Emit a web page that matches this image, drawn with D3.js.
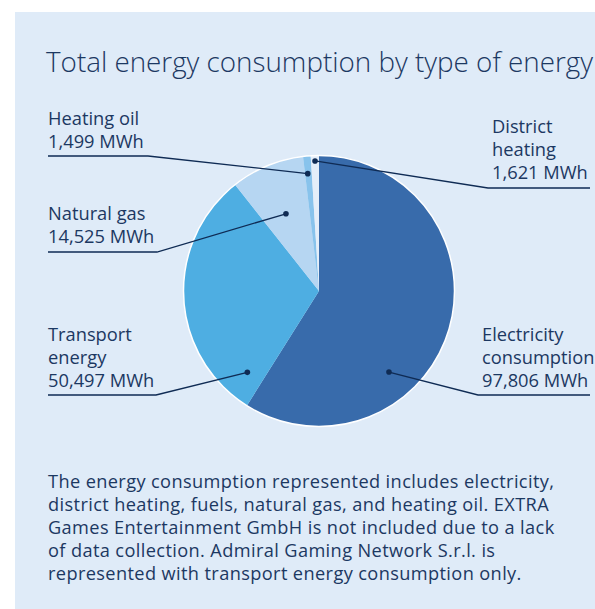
<!DOCTYPE html>
<html>
<head>
<meta charset="utf-8">
<script src="https://cdn.jsdelivr.net/npm/d3@7"></script>
<style>
  html, body { margin: 0; padding: 0; background: #ffffff; }
  svg { display: block; }
</style>
</head>
<body>
<script>
// Energy consumption by type (MWh)
const categories = ["Electricity consumption", "Transport energy", "Natural gas", "Heating oil", "District heating"];
const values = [97806, 50497, 14525, 1499, 1621];
const sliceColors = ["#386bab", "#4eaee2", "#b6d6f2", "#88c3ec", "#e4eef9"];

const titleText = "Total energy consumption by type of energy";
const noteLines = [
  "The energy consumption represented includes electricity,",
  "district heating, fuels, natural gas, and heating oil. EXTRA",
  "Games Entertainment GmbH is not included due to a lack",
  "of data collection. Admiral Gaming Network S.r.l. is",
  "represented with transport energy consumption only."
];

// Callout layout: anchor inside the slice (share of the slice's sweep, share of radius),
// label block position and the underline the leader runs to.
const callouts = [
  { along: 0.656, radial: 0.79, wrap: true,  x: 482, y: 341, side: "right", lineY: 395, x1: 478, x2: 590 },
  { along: 0.084, radial: 0.80, wrap: true,  x: 48,  y: 341, side: "left",  lineY: 395, x1: 48,  x2: 156 },
  { along: 0.48,  radial: 0.62, wrap: false, x: 48,  y: 220, side: "left",  lineY: 252, x1: 48,  x2: 157 },
  { along: 0.40,  radial: 0.87, wrap: false, x: 48,  y: 125, side: "left",  lineY: 156, x1: 48,  x2: 148 },
  { along: 0.50,  radial: 0.96, wrap: true,  x: 492, y: 133, side: "right", lineY: 188, x1: 488, x2: 590 }
];

const W = 595, H = 609;
const cx = 319, cy = 291, R = 135.5;
const ink = "#1c3862";
const leaderInk = "#0f2b54";
const font = "'Open Sans', 'Noto Sans', sans-serif";

const svg = d3.select("body").append("svg")
  .attr("width", W).attr("height", H);

// panel
svg.append("rect")
  .attr("x", 15).attr("y", 12)
  .attr("width", W - 15).attr("height", H - 12)
  .attr("fill", "#dfebf8");

// title
svg.append("text")
  .attr("x", 46).attr("y", 72)
  .attr("font-family", font)
  .attr("font-weight", 300)
  .attr("font-size", 27.8)
  .attr("fill", ink)
  .text(titleText);

const data = categories.map((c, i) => ({ name: c, value: values[i], color: sliceColors[i], layout: callouts[i] }));

const pie = d3.pie().sort(null).value(d => d.value).startAngle(0).endAngle(2 * Math.PI);
const arcs = pie(data);
const arc = d3.arc().innerRadius(0).outerRadius(R);

const g = svg.append("g").attr("transform", `translate(${cx},${cy})`);

g.selectAll("path.slice")
  .data(arcs)
  .join("path")
  .attr("class", "slice")
  .attr("d", arc)
  .attr("fill", d => d.data.color);

// white rim around the pie
g.append("circle")
  .attr("r", R)
  .attr("fill", "none")
  .attr("stroke", "#ffffff")
  .attr("stroke-width", 1.5);

const fmt = d3.format(",");

arcs.forEach(a => {
  const L = a.data.layout;
  const ang = a.startAngle + (a.endAngle - a.startAngle) * L.along;
  const r = R * L.radial;
  const ax = cx + r * Math.sin(ang);
  const ay = cy - r * Math.cos(ang);

  const elbowX = L.side === "left" ? L.x2 : L.x1;
  const endX = L.side === "left" ? L.x1 : L.x2;

  svg.append("polyline")
    .attr("points", [[ax, ay], [elbowX, L.lineY], [endX, L.lineY]].map(p => p.join(",")).join(" "))
    .attr("fill", "none")
    .attr("stroke", leaderInk)
    .attr("stroke-width", 1.3);

  svg.append("circle")
    .attr("cx", ax).attr("cy", ay).attr("r", 2.8)
    .attr("fill", leaderInk);

  const lines = (L.wrap ? a.data.name.split(" ") : [a.data.name]).concat([fmt(a.data.value) + " MWh"]);
  lines.forEach((s, i) => {
    svg.append("text")
      .attr("x", L.x).attr("y", L.y + i * 23)
      .attr("font-family", font)
      .attr("font-size", 18.3)
      .attr("fill", ink)
      .text(s);
  });
});

// footnote
noteLines.forEach((s, i) => {
  svg.append("text")
    .attr("x", 48).attr("y", 488 + i * 23)
    .attr("font-family", font)
    .attr("font-size", 18.2)
    .attr("letter-spacing", 0.38)
    .attr("fill", ink)
    .text(s);
});
</script>
</body>
</html>
